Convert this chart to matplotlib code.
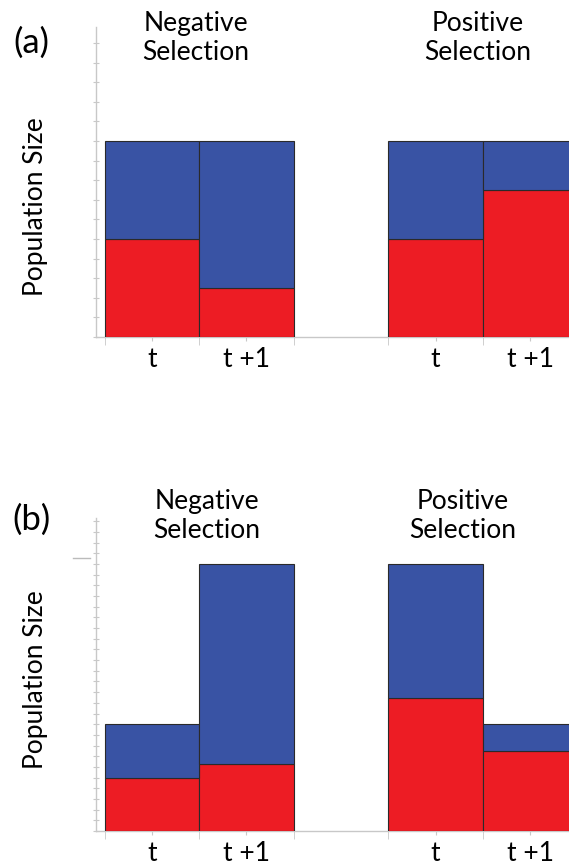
import matplotlib
matplotlib.use("Agg")
import matplotlib.pyplot as plt
from matplotlib.lines import Line2D

plt.rcParams['font.family'] = ['Lato', 'DejaVu Sans']

groups = ["Negative\nSelection", "Positive\nSelection"]
time_labels = ["t", "t +1", "t", "t +1"]
bar_pos = [0, 1, 3, 4]

a_red = [5, 2.5, 5, 7.5]
a_total = [10, 10, 10, 10]
b_red = [5, 6.25, 12.5, 7.5]
b_total = [10, 25, 25, 10]

RED = "#ED1C24"
BLUE = "#3953A4"
EDGE = "#2a2a2a"
GRID = "#c8c8c8"

W, H = 569, 865
fig = plt.figure(figsize=(W / 100, H / 100), dpi=100)


def px_axes(left, top, right, bottom):
    return fig.add_axes([left / W, 1 - bottom / H, (right - left) / W, (bottom - top) / H])


def draw_panel(ax, red, total, ymax, xmin, xmax):
    blue = [t - r for t, r in zip(total, red)]
    ax.bar(bar_pos, red, width=1, align='edge', color=RED, edgecolor=EDGE, linewidth=0.8, zorder=3)
    ax.bar(bar_pos, blue, bottom=red, width=1, align='edge', color=BLUE, edgecolor=EDGE, linewidth=0.8, zorder=3)
    for s in ['top', 'right']:
        ax.spines[s].set_visible(False)
    for s in ['left', 'bottom']:
        ax.spines[s].set_color(GRID)
        ax.spines[s].set_linewidth(1.0)
    ax.set_yticks(range(0, int(ymax) + 1))
    ax.tick_params(axis='y', direction='inout', length=4, color=GRID, labelleft=False)
    ax.set_xticks([p + 0.5 for p in bar_pos])
    ax.set_xticklabels(time_labels, fontsize=19)
    ax.set_xticks([0, 1, 2, 3, 4, 5], minor=True)
    ax.tick_params(axis='x', which='major', length=3, color=GRID, pad=4, labelcolor='black')
    ax.tick_params(axis='x', which='minor', length=6, color=GRID)
    ax.set_xlim(xmin, xmax)
    ax.set_ylim(0, ymax)


# panel (a)
ax1 = px_axes(96, 27, 569, 337)
draw_panel(ax1, a_red, a_total, 310 / 19.6, -8.5 / 94.6, -8.5 / 94.6 + 473 / 94.6)

# panel (b)
ax2 = px_axes(96, 518, 569, 831)
draw_panel(ax2, b_red, b_total, 313 / 10.68, -8.5 / 94.6, -8.5 / 94.6 + 473 / 94.6)

# y labels
fig.text(36 / W, 1 - 207 / H, "Population Size", fontsize=19, rotation=90, ha='center', va='center')
fig.text(36 / W, 1 - 680 / H, "Population Size", fontsize=19, rotation=90, ha='center', va='center')

# panel letters
fig.text(31 / W, 1 - 43 / H, "(a)", fontsize=25, ha='center', va='center')
fig.text(31 / W, 1 - 520 / H, "(b)", fontsize=25, ha='center', va='center')

# group titles
fig.text(196 / W, 1 - 38 / H, groups[0], fontsize=19, ha='center', va='center', linespacing=1.2)
fig.text(478 / W, 1 - 38 / H, groups[1], fontsize=19, ha='center', va='center', linespacing=1.2)
fig.text(207 / W, 1 - 516 / H, groups[0], fontsize=19, ha='center', va='center', linespacing=1.2)
fig.text(463 / W, 1 - 516 / H, groups[1], fontsize=19, ha='center', va='center', linespacing=1.2)

# stray short gray mark in panel (b)
fig.add_artist(Line2D([73 / W, 90 / W], [1 - 558 / H, 1 - 558 / H], color="#bbbbbb", linewidth=1.0))

fig.savefig("out.png", dpi=100)
